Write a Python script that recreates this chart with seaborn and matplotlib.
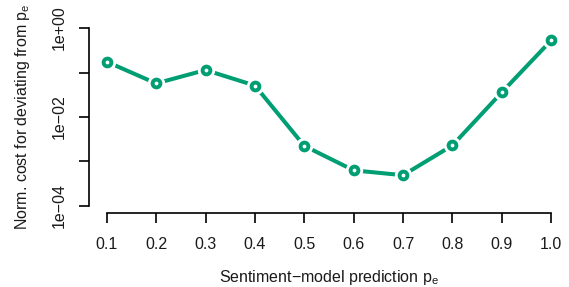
import numpy as np
import pandas as pd
import matplotlib
matplotlib.use('Agg')
import matplotlib.pyplot as plt
import seaborn as sns

p_e = [0.1, 0.2, 0.3, 0.4, 0.5, 0.6, 0.7, 0.8, 0.9, 1.0]
norm_cost = [0.175, 0.057, 0.114, 0.051, 0.00224, 0.00063, 0.00049, 0.0023, 0.036, 0.53]
x_ticks = [0.1, 0.2, 0.3, 0.4, 0.5, 0.6, 0.7, 0.8, 0.9, 1.0]
y_ticks = [1e-4, 1e-3, 1e-2, 1e-1, 1e0]
y_labels = ['1e\u221204', '', '1e\u221202', '', '1e+00']

green = '#009E73'

sns.set_style('white')
plt.rcParams['font.family'] = ['Liberation Sans', 'DejaVu Sans']
plt.rcParams['mathtext.fontset'] = 'custom'
plt.rcParams['mathtext.rm'] = 'Liberation Sans'

df = pd.DataFrame({'p': p_e, 'cost': norm_cost})

fig = plt.figure(figsize=(5.69, 2.87), dpi=100)
ax = fig.add_axes([89 / 569, 74 / 287, 480 / 569, 192 / 287])

sns.lineplot(data=df, x='p', y='cost', color=green, linewidth=2.9, ax=ax, zorder=2)
# white halo gives the R type="b" gap between line and point
ax.plot(df['p'], df['cost'], 'o', ms=12.5, color='white', mec='none', zorder=3)
ax.plot(df['p'], df['cost'], 'o', ms=5.6, mfc='white', mec=green, mew=2.8, zorder=4)

ax.set_yscale('log')
ax.set_xlim(0.1 - 0.036, 1.0 + 0.036)
ax.set_ylim(10 ** (-4 - 0.16), 10 ** 0.16)

for s in ['top', 'right']:
    ax.spines[s].set_visible(False)
ax.spines['left'].set_bounds(1e-4, 1)
ax.spines['bottom'].set_bounds(0.1, 1.0)
for s in ['left', 'bottom']:
    ax.spines[s].set_color('black')
    ax.spines[s].set_linewidth(1.2)

ax.set_xticks(x_ticks)
ax.set_xticklabels([f'{v:.1f}' for v in x_ticks])
ax.set_yticks(y_ticks)
ax.set_yticklabels(y_labels, rotation=90, va='center')
ax.yaxis.set_minor_locator(matplotlib.ticker.NullLocator())
ax.tick_params(axis='both', which='major', direction='out', length=7, width=1.2,
               color='black', labelsize=11.5, labelcolor='#1a1a1a',
               left=True, bottom=True)
ax.tick_params(axis='x', pad=10)
ax.tick_params(axis='y', pad=9)

ax.set_xlabel('Sentiment\u2212model prediction p$_\\mathregular{e}$', fontsize=11.5, color='#1a1a1a', labelpad=12)
ax.set_ylabel('Norm. cost for deviating from p$_\\mathregular{e}$', fontsize=11.5, color='#1a1a1a', labelpad=14)

fig.savefig('out.png', dpi=100)
